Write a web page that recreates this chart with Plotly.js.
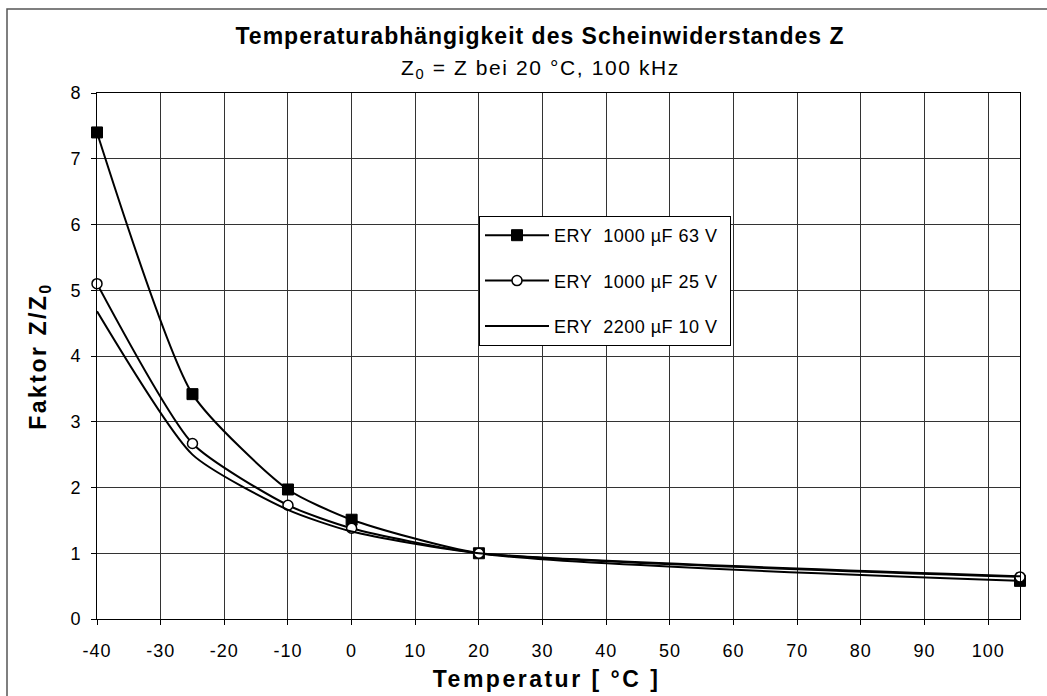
<!DOCTYPE html>
<html>
<head>
<meta charset="utf-8">
<script src="https://cdn.plot.ly/plotly-3.0.1.min.js"></script>
<style>
html,body{margin:0;padding:0;background:#fff;}
#chart{width:1047px;height:696px;}
#chart .gtitle{letter-spacing:1px !important;}
#chart .annotation-text{letter-spacing:1.6px !important;}
#chart g.annotation[data-index="1"] .annotation-text{letter-spacing:2.5px !important;}
#chart .ytitle{letter-spacing:2.5px !important;}
#chart .xtick text, #chart .ytick text{letter-spacing:1px !important;}
#chart .legendtext{letter-spacing:0.5px !important;}
</style>
</head>
<body>
<div id="chart"></div>
<script>
const temps = [-40, -25, -10, 0, 20, 105];
const ery63 = [7.4, 3.42, 1.97, 1.51, 1.0, 0.58];
const ery25 = [5.1, 2.67, 1.73, 1.38, 1.0, 0.64];
const ery10 = [4.68, 2.5, 1.66, 1.33, 1.0, 0.65];
const seriesNames = ['ERY\u00a0 1000 µF 63 V\u00a0\u00a0\u00a0', 'ERY\u00a0 1000 µF 25 V\u00a0\u00a0\u00a0', 'ERY\u00a0 2200 µF 10 V\u00a0\u00a0\u00a0'];
const xTicks = [-40, -30, -20, -10, 0, 10, 20, 30, 40, 50, 60, 70, 80, 90, 100];
const yTicks = [0, 1, 2, 3, 4, 5, 6, 7, 8];

const font = 'Liberation Sans, Arial, Helvetica, sans-serif';
const lineStyle = {color: '#000', width: 2, shape: 'spline', smoothing: 0.6};

const traces = [
  {x: temps, y: ery63, name: seriesNames[0], legendgroup: 'a', mode: 'lines+markers', line: lineStyle, cliponaxis: false,
   marker: {symbol: 'square', size: 11, color: '#000', line: {color: '#000', width: 1}}},
  {x: temps, y: ery25, name: seriesNames[1], legendgroup: 'b', mode: 'lines+markers', line: lineStyle, cliponaxis: false,
   marker: {symbol: 'circle', size: 10, color: '#fff', line: {color: '#000', width: 1.5}}},
  {x: temps, y: ery10, name: seriesNames[2], legendgroup: 'c', mode: 'lines', line: lineStyle, cliponaxis: false}
];

const L = 97, R = 1020, T = 93, B = 619;
const px2x = p => (p - L) / (R - L);
const py2y = p => (B - p) / (B - T);

const layout = {
  width: 1047, height: 696,
  margin: {l: L, r: 1047 - R, t: T, b: 696 - B},
  paper_bgcolor: '#fff', plot_bgcolor: '#fff',
  font: {family: font, color: '#000', size: 18},
  title: {text: '<b>Temperaturabhängigkeit des Scheinwiderstandes Z</b>',
    font: {family: font, size: 23, color: '#000'},
    xref: 'container', x: 540 / 1047, xanchor: 'center',
    yref: 'container', y: (696 - 36) / 696, yanchor: 'middle'},
  annotations: [{
    text: 'Z<sub>0</sub> = Z bei 20 °C, 100 kHz',
    xref: 'paper', yref: 'paper', x: px2x(540), y: py2y(69),
    xanchor: 'center', yanchor: 'middle', showarrow: false,
    font: {family: font, size: 21, color: '#000'}
  }, {
    text: '<b>Temperatur [ °C ]</b>',
    xref: 'paper', yref: 'paper', x: px2x(546), y: py2y(679),
    xanchor: 'center', yanchor: 'middle', showarrow: false,
    font: {family: font, size: 23, color: '#000'}
  }],
  xaxis: {
    range: [-40, 105], tickmode: 'array', tickvals: xTicks, ticktext: xTicks.map(String),
    showgrid: true, gridcolor: '#333', gridwidth: 1,
    showline: true, linecolor: '#000', linewidth: 1, mirror: true,
    ticks: 'outside', ticklen: 5, tickcolor: '#000', ticklabelstandoff: 10,
    tickfont: {family: font, size: 18, color: '#000'},
    zeroline: false
  },
  yaxis: {
    range: [0, 8], tickmode: 'array', tickvals: yTicks, ticktext: yTicks.map(String),
    showgrid: true, gridcolor: '#333', gridwidth: 1,
    showline: true, linecolor: '#000', linewidth: 1, mirror: true,
    ticks: 'outside', ticklen: 5, tickcolor: '#000', ticklabelstandoff: 6,
    tickfont: {family: font, size: 18, color: '#000'},
    zeroline: false,
    title: {text: '<b>Faktor Z/Z<sub>0</sub></b>', font: {family: font, size: 23, color: '#000'}, standoff: 18}
  },
  showlegend: true,
  legend: {
    x: px2x(479), y: py2y(216), xanchor: 'left', yanchor: 'top',
    bgcolor: '#fff', bordercolor: '#000', borderwidth: 1,
    font: {family: font, size: 18, color: '#000'},
    traceorder: 'grouped', tracegroupgap: 19, itemwidth: 64
  },
  shapes: [{
    type: 'rect', xref: 'paper', yref: 'paper',
    x0: px2x(7), x1: px2x(1060), y0: py2y(710), y1: py2y(9),
    line: {color: '#555', width: 1.5}, fillcolor: 'rgba(0,0,0,0)', layer: 'below'
  }]
};

Plotly.newPlot('chart', traces, layout, {displayModeBar: false, staticPlot: true});
</script>
</body>
</html>
